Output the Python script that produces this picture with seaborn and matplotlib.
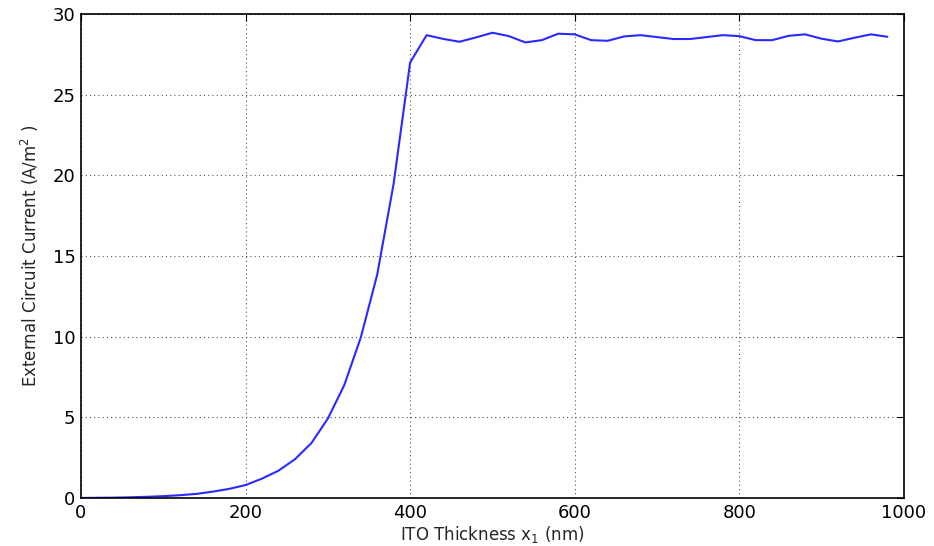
import numpy as np
import pandas as pd
import matplotlib
matplotlib.use("Agg")
import matplotlib.pyplot as plt
import seaborn as sns

# ITO thickness sweep (nm) and resulting external circuit current (A/m^2)
thickness = list(range(0, 1000, 20))
current = [
    0.00, 0.01, 0.02, 0.04, 0.07, 0.11, 0.17, 0.25, 0.39, 0.56,
    0.80, 1.20, 1.69, 2.40, 3.40, 4.92, 7.00, 9.94, 13.85, 19.50,
    27.00, 28.70, 28.47, 28.29, 28.56, 28.85, 28.64, 28.25, 28.39, 28.79,
    28.75, 28.39, 28.35, 28.62, 28.70, 28.58, 28.46, 28.46, 28.58, 28.70,
    28.64, 28.39, 28.39, 28.66, 28.75, 28.48, 28.31, 28.54, 28.75, 28.60,
]
x_ticks = [0, 200, 400, 600, 800, 1000]
y_ticks = [0, 5, 10, 15, 20, 25, 30]

df = pd.DataFrame({"thickness": thickness, "current": current})

sns.set_style("white")
plt.rcParams["font.family"] = ["DejaVu Sans"]

fig = plt.figure(figsize=(9.34, 5.46), dpi=100)
ax = fig.add_axes([0.0867, 0.088, 0.881, 0.886])

sns.lineplot(data=df, x="thickness", y="current", color="#2a2aff",
             linewidth=1.5, ax=ax)

ax.set_xlim(0, 1000)
ax.set_ylim(0, 30)
ax.set_xticks(x_ticks)
ax.set_yticks(y_ticks)
ax.grid(True, color="#555555", linestyle=(0, (1, 2.8)), linewidth=0.8)

for s in ax.spines.values():
    s.set_color("black")
    s.set_linewidth(1.2)

ax.tick_params(direction="in", length=5, width=0.8, top=True, right=True,
               labelsize=13, colors="black", pad=4)

ax.set_xlabel("ITO Thickness x$_1$ (nm)", fontsize=12, labelpad=2)
ax.set_ylabel("External Circuit Current (A/m$^2$ )", fontsize=12, labelpad=8)

fig.savefig("out.png", dpi=100)
